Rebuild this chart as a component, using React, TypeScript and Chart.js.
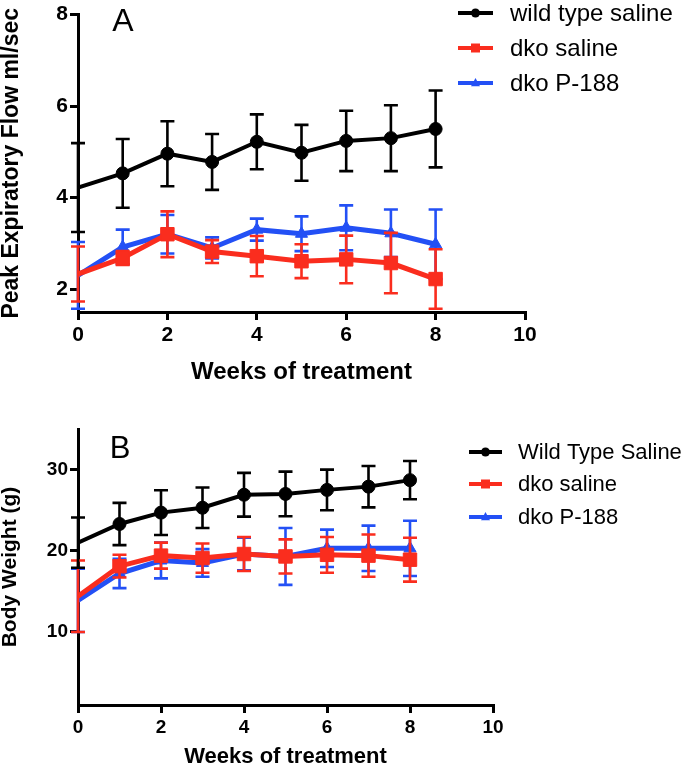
import React, { useEffect, useRef } from 'react';
import { Chart, registerables } from 'chart.js';

Chart.register(...registerables);

const FONT = '"Liberation Sans", Arial, Helvetica, sans-serif';

// ---------- data ----------
const weeks = [0, 1, 2, 3, 4, 5, 6, 7, 8];
const xTicks = [0, 2, 4, 6, 8, 10];

// Panel A: Peak Expiratory Flow (ml/sec)
const pefTicks = [2, 4, 6, 8];
const pefWildSaline = [4.22, 4.53, 4.96, 4.78, 5.22, 4.98, 5.24, 5.3, 5.5];
const pefWildSalineErr = [0.97, 0.75, 0.71, 0.61, 0.6, 0.61, 0.66, 0.72, 0.84];
const pefDkoSaline = [2.33, 2.68, 3.2, 2.82, 2.72, 2.61, 2.65, 2.57, 2.22];
const pefDkoSalineErr = [0.6, 0.15, 0.5, 0.25, 0.44, 0.37, 0.52, 0.66, 0.65];
const pefDkoP188 = [2.3, 2.92, 3.2, 2.9, 3.3, 3.21, 3.34, 3.22, 2.98];
const pefDkoP188Err = [0.73, 0.38, 0.42, 0.23, 0.24, 0.38, 0.49, 0.52, 0.76];
const legendA = ['wild type saline', 'dko saline', 'dko P-188'];

// Panel B: Body Weight (g)
const bwTicks = [10, 20, 30];
const bwWildSaline = [21.0, 23.3, 24.7, 25.3, 26.9, 27.0, 27.5, 27.9, 28.7];
const bwWildSalineErr = [3.1, 2.6, 2.75, 2.5, 2.7, 2.75, 2.5, 2.55, 2.35];
const bwDkoSaline = [14.4, 18.1, 19.4, 19.1, 19.6, 19.3, 19.5, 19.4, 18.9];
const bwDkoSalineErr = [4.4, 1.4, 1.6, 1.8, 2.1, 2.1, 2.2, 2.6, 2.7];
const bwDkoP188 = [13.9, 17.2, 18.8, 18.5, 19.6, 19.3, 20.3, 20.3, 20.3];
const bwDkoP188Err = [3.9, 1.8, 2.2, 1.7, 2.0, 3.5, 2.3, 2.8, 3.4];
const legendB = ['Wild Type Saline', 'dko saline', 'dko P-188'];

// ---------- styles ----------
const BLACK = '#000000';
const RED = 'rgb(250,45,30)';
const BLUE = 'rgb(35,80,245)';

type Marker = 'circle' | 'rect' | 'triangle';
interface SeriesSpec {
  label: string;
  values: number[];
  errs: number[];
  color: string;
  marker: Marker;
  radius: number;
  lineWidth: number;
}

interface PanelSpec {
  height: number;
  series: SeriesSpec[];
  yMin: number;
  yMax: number;
  yTicks: number[];
  yTitle: string;
  yTitleSize: number;
  xTitleSize: number;
  xTitlePad: number;
  yTickSize: number;
  xTickSize: number;
  padTop: number;
  padRight: number;
  xScaleH: number;
  letter: string;
  letterX: number;
  letterY: number;
  letterSize: number;
  legX0: number;
  legX1: number;
  legTextX: number;
  legYs: number[];
  legSize: number;
}

function drawMarker(ctx: CanvasRenderingContext2D, m: Marker, x: number, y: number, r: number, color: string) {
  ctx.fillStyle = color;
  ctx.beginPath();
  if (m === 'circle') {
    ctx.arc(x, y, r, 0, Math.PI * 2);
  } else if (m === 'rect') {
    ctx.rect(x - r, y - r, 2 * r, 2 * r);
  } else {
    ctx.moveTo(x, y - r * 1.1);
    ctx.lineTo(x + r, y + r * 0.7);
    ctx.lineTo(x - r, y + r * 0.7);
    ctx.closePath();
  }
  ctx.fill();
}

const errorBarPlugin = {
  id: 'errorBars',
  beforeDatasetDraw(chart: any, args: any) {
    const ds = chart.data.datasets[args.index];
    const errs: number[] | undefined = ds.errors;
    if (!errs) return;
    const xs = chart.scales.x;
    const ys = chart.scales.y;
    const ctx: CanvasRenderingContext2D = chart.ctx;
    ctx.save();
    ctx.strokeStyle = ds.borderColor;
    ctx.lineWidth = 2.6;
    ctx.lineCap = 'butt';
    const cap = 7;
    ds.data.forEach((p: { x: number; y: number }, i: number) => {
      const px = xs.getPixelForValue(p.x);
      const top = ys.getPixelForValue(p.y + errs[i]);
      const bot = ys.getPixelForValue(p.y - errs[i]);
      ctx.beginPath();
      ctx.moveTo(px, top);
      ctx.lineTo(px, bot);
      ctx.moveTo(px - cap, top);
      ctx.lineTo(px + cap, top);
      ctx.moveTo(px - cap, bot);
      ctx.lineTo(px + cap, bot);
      ctx.stroke();
    });
    ctx.restore();
  },
};

function decorPlugin(p: PanelSpec) {
  return {
    id: 'decor',
    afterDraw(chart: any) {
      const ctx: CanvasRenderingContext2D = chart.ctx;
      ctx.save();
      ctx.fillStyle = '#000';
      ctx.font = `${p.letterSize}px ${FONT}`;
      ctx.textAlign = 'center';
      ctx.textBaseline = 'middle';
      ctx.fillText(p.letter, p.letterX, p.letterY);
      p.series.forEach((s, i) => {
        const y = p.legYs[i];
        ctx.strokeStyle = s.color;
        ctx.lineWidth = 4;
        ctx.beginPath();
        ctx.moveTo(p.legX0, y);
        ctx.lineTo(p.legX1, y);
        ctx.stroke();
        drawMarker(ctx, s.marker, (p.legX0 + p.legX1) / 2, y, 4.5, s.color);
        ctx.fillStyle = '#000';
        ctx.font = `${p.legSize}px ${FONT}`;
        ctx.textAlign = 'left';
        ctx.textBaseline = 'middle';
        ctx.fillText(s.label, p.legTextX, y + 1);
      });
      ctx.restore();
    },
  };
}

function makeConfig(p: PanelSpec): any {
  const axisGrid = { drawOnChartArea: false, drawTicks: true, tickLength: 8, color: '#000', lineWidth: 3 };
  const axisBorder = { display: true, color: '#000', width: 3 };
  return {
    type: 'line',
    data: {
      datasets: p.series.map((s) => ({
        label: s.label,
        data: weeks.map((w, i) => ({ x: w, y: s.values[i] })),
        errors: s.errs,
        borderColor: s.color,
        backgroundColor: s.color,
        borderWidth: s.lineWidth,
        pointStyle: s.marker,
        pointRadius: weeks.map((_, i) => (i === 0 ? 0 : s.radius)),
        pointBorderWidth: 1,
        pointBorderColor: s.color,
        pointBackgroundColor: s.color,
        tension: 0,
        fill: false,
      })),
    },
    options: {
      responsive: false,
      animation: false,
      events: [],
      layout: { padding: { top: p.padTop, right: p.padRight, bottom: 0, left: 0 } },
      plugins: { legend: { display: false }, tooltip: { enabled: false } },
      scales: {
        x: {
          type: 'linear',
          min: 0,
          max: 10,
          afterBuildTicks: (sc: any) => {
            sc.ticks = xTicks.map((v) => ({ value: v }));
          },
          afterFit: (sc: any) => {
            sc.height = p.xScaleH;
          },
          grid: axisGrid,
          border: axisBorder,
          ticks: {
            color: '#000',
            padding: 3,
            maxRotation: 0,
            autoSkip: false,
            font: { family: FONT, size: p.xTickSize, weight: 'bold' },
          },
          title: {
            display: true,
            text: 'Weeks of treatment',
            color: '#000',
            font: { family: FONT, size: p.xTitleSize, weight: 'bold', lineHeight: 1.2 },
            padding: { top: 0, bottom: p.xTitlePad },
          },
        },
        y: {
          type: 'linear',
          min: p.yMin,
          max: p.yMax,
          afterBuildTicks: (sc: any) => {
            sc.ticks = p.yTicks.map((v) => ({ value: v }));
          },
          afterFit: (sc: any) => {
            sc.width = 78;
          },
          grid: axisGrid,
          border: axisBorder,
          ticks: {
            color: '#000',
            padding: 2,
            font: { family: FONT, size: p.yTickSize, weight: 'bold' },
          },
          title: {
            display: true,
            text: p.yTitle,
            color: '#000',
            font: { family: FONT, size: p.yTitleSize, weight: 'bold', lineHeight: 1.0 },
            padding: { top: 0, bottom: 0 },
          },
        },
      },
    },
    plugins: [errorBarPlugin, decorPlugin(p)],
  };
}

const panelA: PanelSpec = {
  height: 390,
  series: [
    { label: legendA[0], values: pefWildSaline, errs: pefWildSalineErr, color: BLACK, marker: 'circle', radius: 6.5, lineWidth: 4 },
    { label: legendA[1], values: pefDkoSaline, errs: pefDkoSalineErr, color: RED, marker: 'rect', radius: 9.5, lineWidth: 5 },
    { label: legendA[2], values: pefDkoP188, errs: pefDkoP188Err, color: BLUE, marker: 'triangle', radius: 7, lineWidth: 5 },
  ],
  yMin: 1.5,
  yMax: 8,
  yTicks: pefTicks,
  yTitle: 'Peak Expiratory Flow ml/sec',
  yTitleSize: 23,
  xTitleSize: 24,
  xTitlePad: 3,
  yTickSize: 21,
  xTickSize: 21,
  padTop: 12,
  padRight: 162,
  xScaleH: 78,
  letter: 'A',
  letterX: 123,
  letterY: 22,
  letterSize: 32,
  legX0: 458,
  legX1: 493,
  legTextX: 510,
  legYs: [13, 48, 83],
  legSize: 24,
};

const panelB: PanelSpec = {
  height: 381,
  series: [
    { label: legendB[0], values: bwWildSaline, errs: bwWildSalineErr, color: BLACK, marker: 'circle', radius: 6.5, lineWidth: 4 },
    { label: legendB[1], values: bwDkoSaline, errs: bwDkoSalineErr, color: RED, marker: 'rect', radius: 9.5, lineWidth: 5 },
    { label: legendB[2], values: bwDkoP188, errs: bwDkoP188Err, color: BLUE, marker: 'triangle', radius: 7, lineWidth: 5 },
  ],
  yMin: 1,
  yMax: 35,
  yTicks: bwTicks,
  yTitle: 'Body Weight (g)',
  yTitleSize: 21,
  xTitleSize: 22,
  xTitlePad: 1,
  yTickSize: 19,
  xTickSize: 19,
  padTop: 39,
  padRight: 194,
  xScaleH: 66,
  letter: 'B',
  letterX: 120,
  letterY: 59,
  letterSize: 31,
  legX0: 469,
  legX1: 502,
  legTextX: 518,
  legYs: [62, 94, 127],
  legSize: 22,
};

function Panel({ spec }: { spec: PanelSpec }) {
  const ref = useRef<HTMLCanvasElement | null>(null);
  useEffect(() => {
    if (!ref.current) return;
    const chart = new Chart(ref.current, makeConfig(spec));
    return () => chart.destroy();
  }, [spec]);
  return <canvas ref={ref} width={687} height={spec.height} style={{ display: 'block' }} />;
}

export default function App() {
  return (
    <div style={{ position: 'absolute', left: 0, top: 0, width: 687, height: 771, background: '#fff' }}>
      <Panel spec={panelA} />
      <Panel spec={panelB} />
    </div>
  );
}
